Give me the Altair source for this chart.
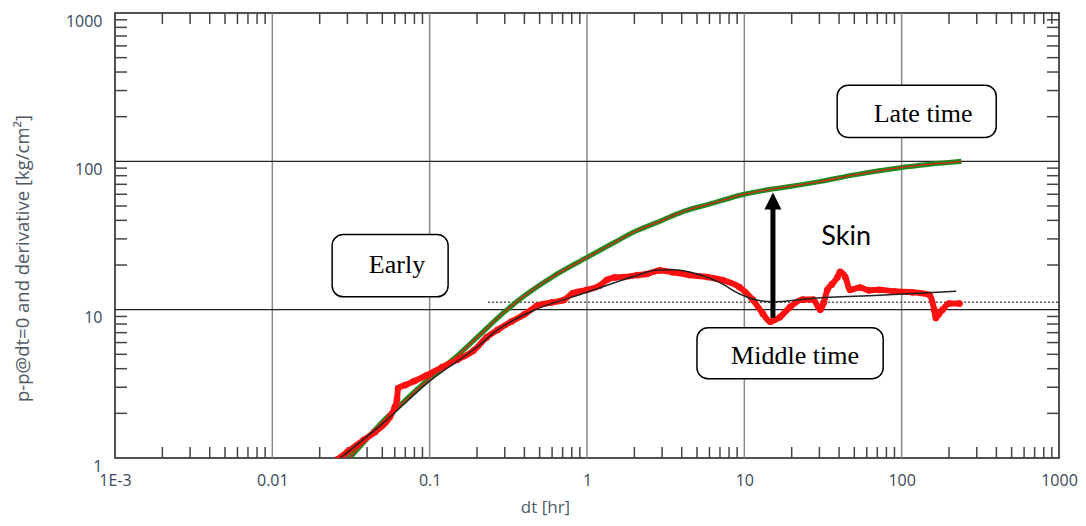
import altair as alt
import pandas as pd

# ---------------- data ----------------
press_dt = [0.031, 0.04, 0.05, 0.07, 0.1, 0.15, 0.2, 0.3, 0.4, 0.6, 1.0, 1.5, 2, 3, 4, 6, 10, 15, 20, 30, 50, 70, 100, 150, 240]
press_p = [1.0, 1.35, 1.75, 2.45, 3.45, 4.9, 6.5, 9.7, 12.4, 16.6, 22.5, 28.5, 33.5, 40, 45.5, 51.5, 60, 65, 68, 73, 81, 86, 91, 95.5, 100]

deriv_dt = [0.026, 0.03, 0.038, 0.045, 0.056, 0.060, 0.062, 0.063, 0.07, 0.08, 0.095, 0.12, 0.15, 0.19, 0.23, 0.27,
            0.33, 0.4, 0.48, 0.6, 0.71, 0.81, 1.0, 1.2, 1.34, 1.5, 1.7, 2.1, 2.4, 2.9, 3.5, 4.5, 5.8, 7.3, 9.3,
            11.3, 13.1, 14.6, 16.8, 19.5, 23.5, 27.4, 30.4, 31.9, 33.7, 36, 39, 40.6, 43.8, 47, 54.5, 62, 72, 90,
            117, 150, 161, 165, 172, 182, 200, 233]
deriv_p = [0.98, 1.1, 1.32, 1.5, 1.9, 2.2, 2.5, 2.95, 3.1, 3.3, 3.6, 4.1, 4.6, 5.3, 6.5, 7.3,
           8.3, 9.3, 10.6, 11.2, 11.6, 12.9, 13.6, 14.5, 15.9, 16.5, 16.6, 17.1, 17.4, 18.4, 17.9, 17.1, 16.6, 15.8, 14.2,
           11.7, 9.4, 8.3, 8.9, 10.4, 11.7, 11.7, 10.0, 11.1, 13.6, 14.8, 16.5, 18.0, 16.6, 13.6, 14.1, 13.5, 13.6, 13.3,
           13.1, 12.6, 10.0, 8.8, 9.3, 10.0, 11.0, 11.0]

model_dt = [0.027, 0.05, 0.1, 0.2, 0.27, 0.45, 1.0, 2.0, 2.8, 3.5, 5.2, 7, 9.3, 12, 15, 27, 72, 222]
model_p = [1.0, 1.7, 3.3, 5.6, 7.3, 9.8, 13.1, 16.8, 18.5, 18.6, 17.2, 15.2, 12.8, 11.6, 11.3, 11.9, 12.5, 13.3]

flat_dt = [0.235, 1000]
flat_p = [11.2, 11.2]

arrow_dt = [15.2]
arrow_lo = [8.8]
arrow_hi = [52.0]
arrow_tip = [61.7]

box_labels = ["Early", "Late time", "Middle time"]
box_dt1 = [0.024, 38.9, 5.0]
box_dt2 = [0.131, 399, 76.3]
box_p1 = [12.2, 145, 3.42]
box_p2 = [32.1, 326, 7.56]
box_text_dt = [0.062, 137, 21.0]
box_text_p = [20.1, 208, 4.89]

skin_label = ["Skin"]
skin_dt = [44.4]
skin_p = [31.1]

x_ticks = [0.001, 0.01, 0.1, 1, 10, 100, 1000]
x_tick_labels = ["1E-3", "0.01", "0.1", "1", "10", "100", "1000"]
y_ticks = [1, 10, 100, 1000]
y_tick_labels = ["1", "10", "100", "1000"]
grid_x = [0.01, 0.1, 1, 10, 100]
grid_y = [10, 100]
minor_mult = [2, 3, 4, 5, 6, 7, 8, 9]
x_minor = [m * d for d in [0.001, 0.01, 0.1, 1, 10, 100] for m in minor_mult]
y_minor = [m * d for d in [1, 10, 100] for m in minor_mult]

# ---------------- chart ----------------
W, H = 944, 445
xs = alt.Scale(type="log", domain=[0.001, 1000])
ys = alt.Scale(type="log", domain=[1, 1000])

def expr(vals, labs):
    v = ",".join(repr(x) for x in vals)
    l = ",".join("'" + s + "'" for s in labs)
    return "[" + l + "][indexof([" + v + "], datum.value)]"

x_axis = alt.Axis(values=x_ticks, labelExpr=expr(x_ticks, x_tick_labels), grid=False, ticks=False,
                  domain=False, labelFont="Open Sans", labelFontSize=16, labelColor="#37475a", labelPadding=14,
                  labelFlush=False, labelOverlap=False,
                  title="dt [hr]", titleFont="Open Sans", titleFontSize=17, titleFontWeight="normal",
                  titleColor="#505a66", titleX=430, titleY=49, titleBaseline="middle", titleAlign="center")
y_axis = alt.Axis(values=y_ticks, labelExpr=expr(y_ticks, y_tick_labels), grid=False, ticks=False,
                  domain=False, labelFont="Open Sans", labelFontSize=16, labelColor="#37475a", labelPadding=13,
                  labelBaseline="top", labelFlush=False, labelOverlap=False,
                  title="p-p@dt=0 and derivative [kg/cm²]", titleFont="Open Sans", titleFontSize=18.5,
                  titleFontWeight="normal", titleColor="#505a66", titleX=-93, titleY=245, titleAngle=270,
                  titleBaseline="middle", titleAlign="center")

def X(f, axis=False):
    return alt.X(f, scale=xs, axis=x_axis) if axis else alt.X(f, scale=xs)

def Y(f, axis=False):
    return alt.Y(f, scale=ys, axis=y_axis) if axis else alt.Y(f, scale=ys)

gx = alt.Chart(pd.DataFrame({"v": grid_x})).mark_rule(color="#8a8a8a", strokeWidth=1.5).encode(
    x=X("v:Q", True), y=alt.value(0), y2=alt.value(H))
gy = alt.Chart(pd.DataFrame({"v": grid_y})).mark_rule(color="#222222", strokeWidth=1.2).encode(
    y=Y("v:Q", True), x=alt.value(0), x2=alt.value(W))

tx_df = pd.DataFrame({"v": x_minor})
ty_df = pd.DataFrame({"v": y_minor})
tick_col = "#444444"
tb = alt.Chart(tx_df).mark_rule(color=tick_col, strokeWidth=1.5).encode(
    x=X("v:Q"), y=alt.value(H), y2=alt.value(H - 11))
tt = alt.Chart(tx_df).mark_rule(color=tick_col, strokeWidth=1.5).encode(
    x=X("v:Q"), y=alt.value(0), y2=alt.value(11))
tl = alt.Chart(ty_df).mark_rule(color=tick_col, strokeWidth=1.5).encode(
    y=Y("v:Q"), x=alt.value(0), x2=alt.value(12))
tr = alt.Chart(ty_df).mark_rule(color=tick_col, strokeWidth=1.5).encode(
    y=Y("v:Q"), x=alt.value(W), x2=alt.value(W - 12))

flat = alt.Chart(pd.DataFrame({"dt": flat_dt, "p": flat_p})).mark_line(
    color="#555555", strokeWidth=1.5, strokeDash=[2, 2]).encode(x=X("dt:Q"), y=Y("p:Q"))

press_df = pd.DataFrame({"dt": press_dt, "p": press_p})
green = alt.Chart(press_df).mark_line(color="#1f8a1f", strokeWidth=5, clip=True, interpolate="monotone").encode(
    x=X("dt:Q"), y=Y("p:Q"))
redthin = alt.Chart(press_df).mark_line(color="#e0201a", strokeWidth=1.3, clip=True, interpolate="monotone").encode(
    x=X("dt:Q"), y=Y("p:Q"))

deriv_df = pd.DataFrame({"dt": deriv_dt, "p": deriv_p})
dline = alt.Chart(deriv_df).mark_line(color="#ff1010", strokeWidth=6, strokeCap="round", strokeJoin="round",
                                      clip=True, interpolate="monotone").encode(x=X("dt:Q"), y=Y("p:Q"))
dpts = alt.Chart(deriv_df).mark_circle(color="#ff1010", size=45, opacity=1, clip=True).encode(
    x=X("dt:Q"), y=Y("p:Q"))

model = alt.Chart(pd.DataFrame({"dt": model_dt, "p": model_p})).mark_line(
    color="#222222", strokeWidth=1.5, clip=True, interpolate="monotone").encode(x=X("dt:Q"), y=Y("p:Q"))

arr_df = pd.DataFrame({"dt": arrow_dt, "lo": arrow_lo, "hi": arrow_hi, "tip": arrow_tip})
shaft = alt.Chart(arr_df).mark_rule(color="black", strokeWidth=5).encode(
    x=X("dt:Q"), y=Y("lo:Q"), y2="hi:Q")
head = alt.Chart(arr_df).mark_point(shape="M0,0L1,2L-1,2Z", filled=True, size=289, color="black",
                                    opacity=1, strokeWidth=0).encode(x=X("dt:Q"), y=Y("tip:Q"))

box_df = pd.DataFrame({"label": box_labels, "x1": box_dt1, "x2": box_dt2, "y1": box_p1, "y2": box_p2,
                       "tx": box_text_dt, "ty": box_text_p})
boxes = alt.Chart(box_df).mark_rect(fill="white", stroke="black", strokeWidth=1.5, cornerRadius=11).encode(
    x=X("x1:Q"), x2="x2:Q", y=Y("y1:Q"), y2="y2:Q")
box_text = alt.Chart(box_df).mark_text(font="Liberation Serif", fontSize=26, color="black",
                                       align="center", baseline="middle").encode(
    x=X("tx:Q"), y=Y("ty:Q"), text="label:N")

skin = alt.Chart(pd.DataFrame({"label": skin_label, "dt": skin_dt, "p": skin_p})).mark_text(
    font="Lato", fontSize=27, color="black", align="center", baseline="middle").encode(
    x=X("dt:Q"), y=Y("p:Q"), text="label:N")

chart = alt.layer(gx, gy, tb, tt, tl, tr, flat, green, redthin, dline, dpts, model, shaft, head,
                  boxes, box_text, skin).properties(
    width=W, height=H,
    autosize=alt.AutoSizeParams(type="none"),
    padding={"left": 107, "top": 5, "right": 19, "bottom": 60},
    background="white",
).configure_view(stroke="#1a1a1a", strokeWidth=1.5).configure_axis(grid=False, ticks=False, domain=False)

chart.save("out.html", embed_options={"renderer": "svg", "actions": False})
